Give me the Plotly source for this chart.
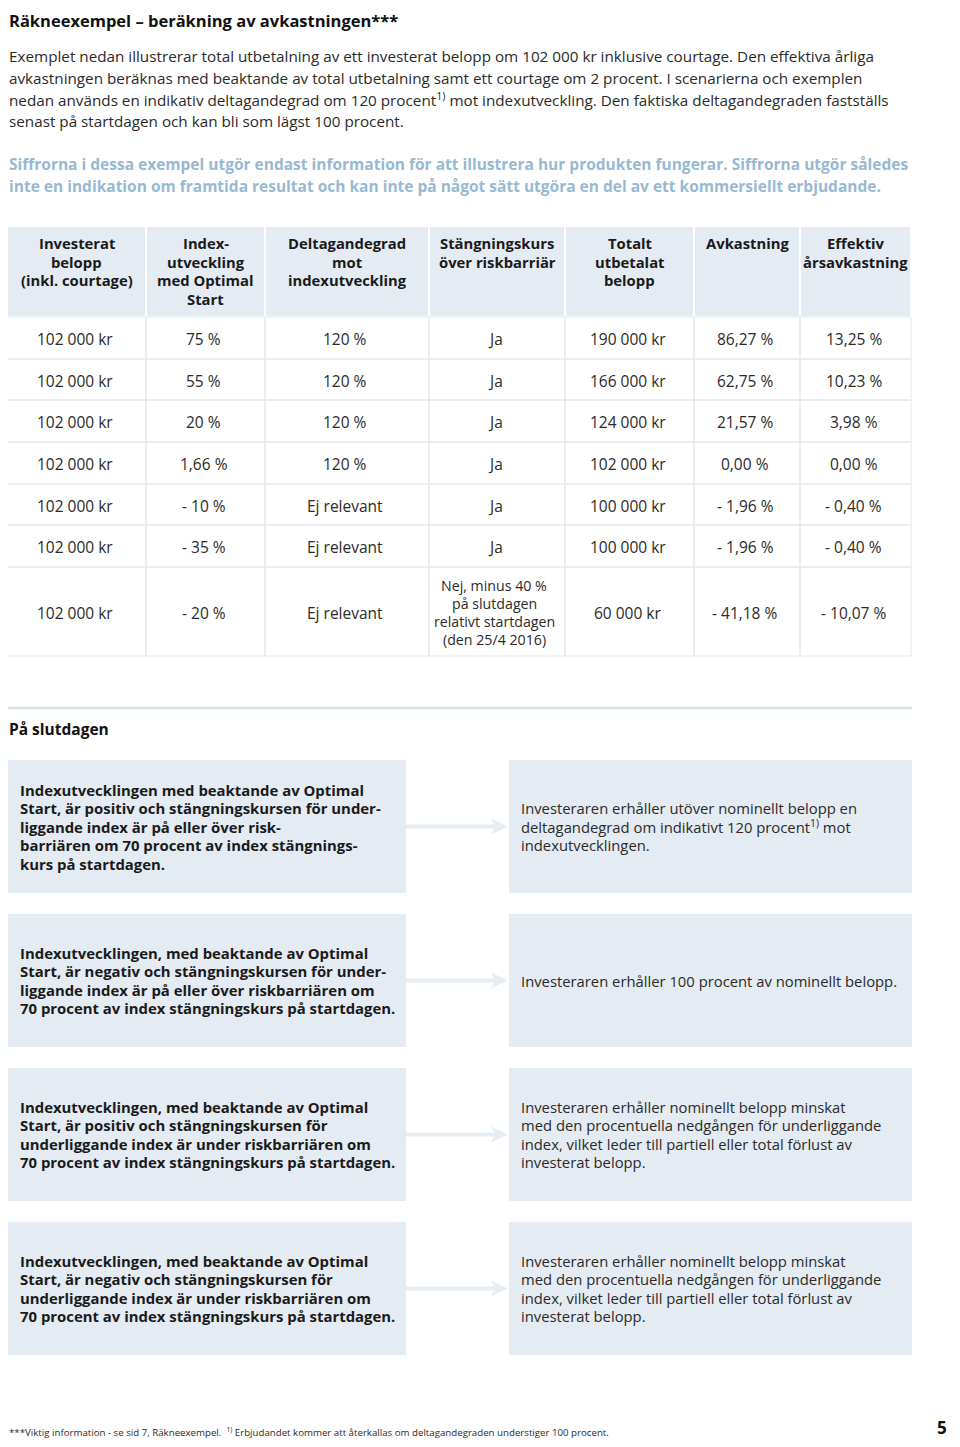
import plotly.graph_objects as go

FONT = "Open Sans"
TXT = "#2b2a29"
BLUE = "#97b9d2"
FILL = "#e4ebf2"
GRID = "#e2e8ec"
ARROW = "#e6edf3"

title = "Räkneexempel – beräkning av avkastningen***"
intro_lines = [
    "Exemplet nedan illustrerar total utbetalning av ett investerat belopp om 102 000 kr inklusive courtage. Den effektiva årliga",
    "avkastningen beräknas med beaktande av total utbetalning samt ett courtage om 2 procent. I scenarierna och exemplen",
    "nedan används en indikativ deltagandegrad om 120 procent<sup>1)</sup> mot indexutveckling. Den faktiska deltagandegraden fastställs",
    "senast på startdagen och kan bli som lägst 100 procent.",
]
note_lines = [
    "Siffrorna i dessa exempel utgör endast information för att illustrera hur produkten fungerar. Siffrorna utgör således",
    "inte en indikation om framtida resultat och kan inte på något sätt utgöra en del av ett kommersiellt erbjudande.",
]

headers = [
    "Investerat<br>belopp<br>(inkl. courtage)",
    "Index-<br>utveckling<br>med Optimal<br>Start",
    "Deltagandegrad<br>mot<br>indexutveckling",
    "Stängningskurs<br>över riskbarriär",
    "Totalt<br>utbetalat<br>belopp",
    "Avkastning",
    "Effektiv<br>årsavkastning",
]
invested = ["102 000 kr"] * 7
index_dev = ["75 %", "55 %", "20 %", "1,66 %", "- 10 %", "- 35 %", "- 20 %"]
participation = ["120 %", "120 %", "120 %", "120 %", "Ej relevant", "Ej relevant", "Ej relevant"]
barrier = ["Ja", "Ja", "Ja", "Ja", "Ja", "Ja",
           "Nej, minus 40 %<br>på slutdagen<br>relativt startdagen<br>(den 25/4 2016)"]
paid_out = ["190 000 kr", "166 000 kr", "124 000 kr", "102 000 kr", "100 000 kr", "100 000 kr", "60 000 kr"]
returns = ["86,27 %", "62,75 %", "21,57 %", "0,00 %", "- 1,96 %", "- 1,96 %", "- 41,18 %"]
annual = ["13,25 %", "10,23 %", "3,98 %", "0,00 %", "- 0,40 %", "- 0,40 %", "- 10,07 %"]
table_cols = [invested, index_dev, participation, barrier, paid_out, returns, annual]

section_title = "På slutdagen"
conditions = [
    "Indexutvecklingen med beaktande av Optimal<br>Start, är positiv och stängningskursen för under-<br>liggande index är på eller över risk-<br>barriären om 70 procent av index stängnings-<br>kurs på startdagen.",
    "Indexutvecklingen, med beaktande av Optimal<br>Start, är negativ och stängningskursen för under-<br>liggande index är på eller över riskbarriären om<br>70 procent av index stängningskurs på startdagen.",
    "Indexutvecklingen, med beaktande av Optimal<br>Start, är positiv och stängningskursen för<br>underliggande index är under riskbarriären om<br>70 procent av index stängningskurs på startdagen.",
    "Indexutvecklingen, med beaktande av Optimal<br>Start, är negativ och stängningskursen för<br>underliggande index är under riskbarriären om<br>70 procent av index stängningskurs på startdagen.",
]
outcomes = [
    "Investeraren erhåller utöver nominellt belopp en<br>deltagandegrad om indikativt 120 procent<sup>1)</sup> mot<br>indexutvecklingen.",
    "Investeraren erhåller 100 procent av nominellt belopp.",
    "Investeraren erhåller nominellt belopp minskat<br>med den procentuella nedgången för underliggande<br>index, vilket leder till partiell eller total förlust av<br>investerat belopp.",
    "Investeraren erhåller nominellt belopp minskat<br>med den procentuella nedgången för underliggande<br>index, vilket leder till partiell eller total förlust av<br>investerat belopp.",
]
footnote = "***Viktig information - se sid 7, Räkneexempel.  <sup>1)</sup> Erbjudandet kommer att återkallas om deltagandegraden understiger 100 procent."
page_no = "5"

# ---- layout geometry (page pixels) ----
col_edges = [7, 146, 265, 429, 565, 694, 800, 911]
head_top, head_bot = 227, 317
row_edges = [317, 359, 400, 442, 484, 525, 567, 656]
box_tops = [760, 914, 1068, 1222]
box_h = 133
left_box = (8, 406)
right_box = (509, 912)

# the page body has an 8px margin on every side; map axis units to page pixels
OFF = 8
W, H = 960 - OFF, 1447 - 2 * OFF
fig = go.Figure()
shapes = []
ann = []

def text(x, y, t, size=15, color=TXT, bold=False, xanchor="left", yanchor="middle", align="left", family=FONT):
    ann.append(dict(x=x, y=y, xref="x", yref="y", text=(f"<b>{t}</b>" if bold else t),
                    showarrow=False, xanchor=xanchor, yanchor=yanchor, align=align,
                    font=dict(family=family, size=size, color=color), borderpad=0))

def multiline(x, y_mid, t, spacing, **kw):
    lines = t.split("<br>")
    n = len(lines)
    for i, ln in enumerate(lines):
        text(x, y_mid + (i - (n - 1) / 2) * spacing, ln, **kw)

def multiline_top(x, y_first, t, spacing, **kw):
    for i, ln in enumerate(t.split("<br>")):
        text(x, y_first + i * spacing, ln, **kw)

# title and intro
text(8, 8, title, size=16.5, color="#111111", bold=True, yanchor="top")
for i, ln in enumerate(intro_lines):
    text(8, 56 + i * 21.7, ln, size=15.25)
for i, ln in enumerate(note_lines):
    text(8, 164 + i * 21.7, ln, size=15.5, color=BLUE, bold=True)

# table header
for c in range(7):
    x0, x1 = col_edges[c], col_edges[c + 1]
    shapes.append(dict(type="rect", xref="x", yref="y", x0=x0 + (0 if c == 0 else 1), x1=x1 - 1,
                       y0=head_top, y1=head_bot - 1, fillcolor=FILL, line=dict(width=0), layer="below"))
    multiline_top((x0 + x1) / 2, 243, headers[c], 18.5, size=14.8, color="#1a1a1a", bold=True,
                  xanchor="center", align="center")

# table body
for r in range(len(invested)):
    y0, y1 = row_edges[r], row_edges[r + 1]
    for c in range(7):
        x0, x1 = col_edges[c], col_edges[c + 1]
        shapes.append(dict(type="rect", xref="x", yref="y", x0=x0, x1=x1, y0=y0, y1=y1,
                           fillcolor="rgba(0,0,0,0)", line=dict(color=GRID, width=1), layer="below"))
        val = table_cols[c][r]
        if "<br>" in val:
            multiline((x0 + x1) / 2 - 3, (y0 + y1) / 2 + 1, val, 18.3, size=14.2,
                      xanchor="center", align="center")
        else:
            text((x0 + x1) / 2 - 2, (y0 + y1) / 2 + 1, val, size=15.5, xanchor="center", align="center")

# separator line and section title
shapes.append(dict(type="line", xref="x", yref="y", x0=8, x1=912, y0=708, y1=708,
                   line=dict(color="#d6e2e8", width=2.5)))
text(8, 729, section_title, size=15.5, color="#111111", bold=True)

# condition / outcome boxes with arrows
for i in range(4):
    t = box_tops[i]
    mid = t + box_h / 2
    shapes.append(dict(type="rect", xref="x", yref="y", x0=left_box[0], x1=left_box[1], y0=t, y1=t + box_h,
                       fillcolor=FILL, line=dict(width=0), layer="below"))
    shapes.append(dict(type="rect", xref="x", yref="y", x0=right_box[0], x1=right_box[1], y0=t, y1=t + box_h,
                       fillcolor=FILL, line=dict(width=0), layer="below"))
    multiline(19, mid, conditions[i], 18.5, size=14.9, color="#1a1a1a", bold=True)
    multiline(520, mid, outcomes[i], 18.3, size=14.8)
    tip = right_box[0] - 1
    shapes.append(dict(type="line", xref="x", yref="y", x0=left_box[1], x1=tip - 12, y0=mid, y1=mid,
                       line=dict(color=ARROW, width=4)))
    shapes.append(dict(type="path", xref="x", yref="y",
                       path=f"M {tip},{mid} L {tip-17},{mid-8} L {tip-13},{mid} L {tip-17},{mid+8} Z",
                       fillcolor=ARROW, line=dict(width=0)))

# footer
text(8, 1432, footnote, size=9.7, color=TXT)
text(948, 1427, page_no, size=17, color="#111111", bold=True, xanchor="right")

fig.update_layout(
    width=W, height=H, margin=dict(l=0, r=0, t=0, b=0),
    paper_bgcolor="white", plot_bgcolor="white",
    xaxis=dict(range=[OFF, 960], visible=False, fixedrange=True),
    yaxis=dict(range=[OFF + H, OFF], visible=False, fixedrange=True),
    shapes=shapes, annotations=ann, showlegend=False,
)
fig.write_html("out.html")
